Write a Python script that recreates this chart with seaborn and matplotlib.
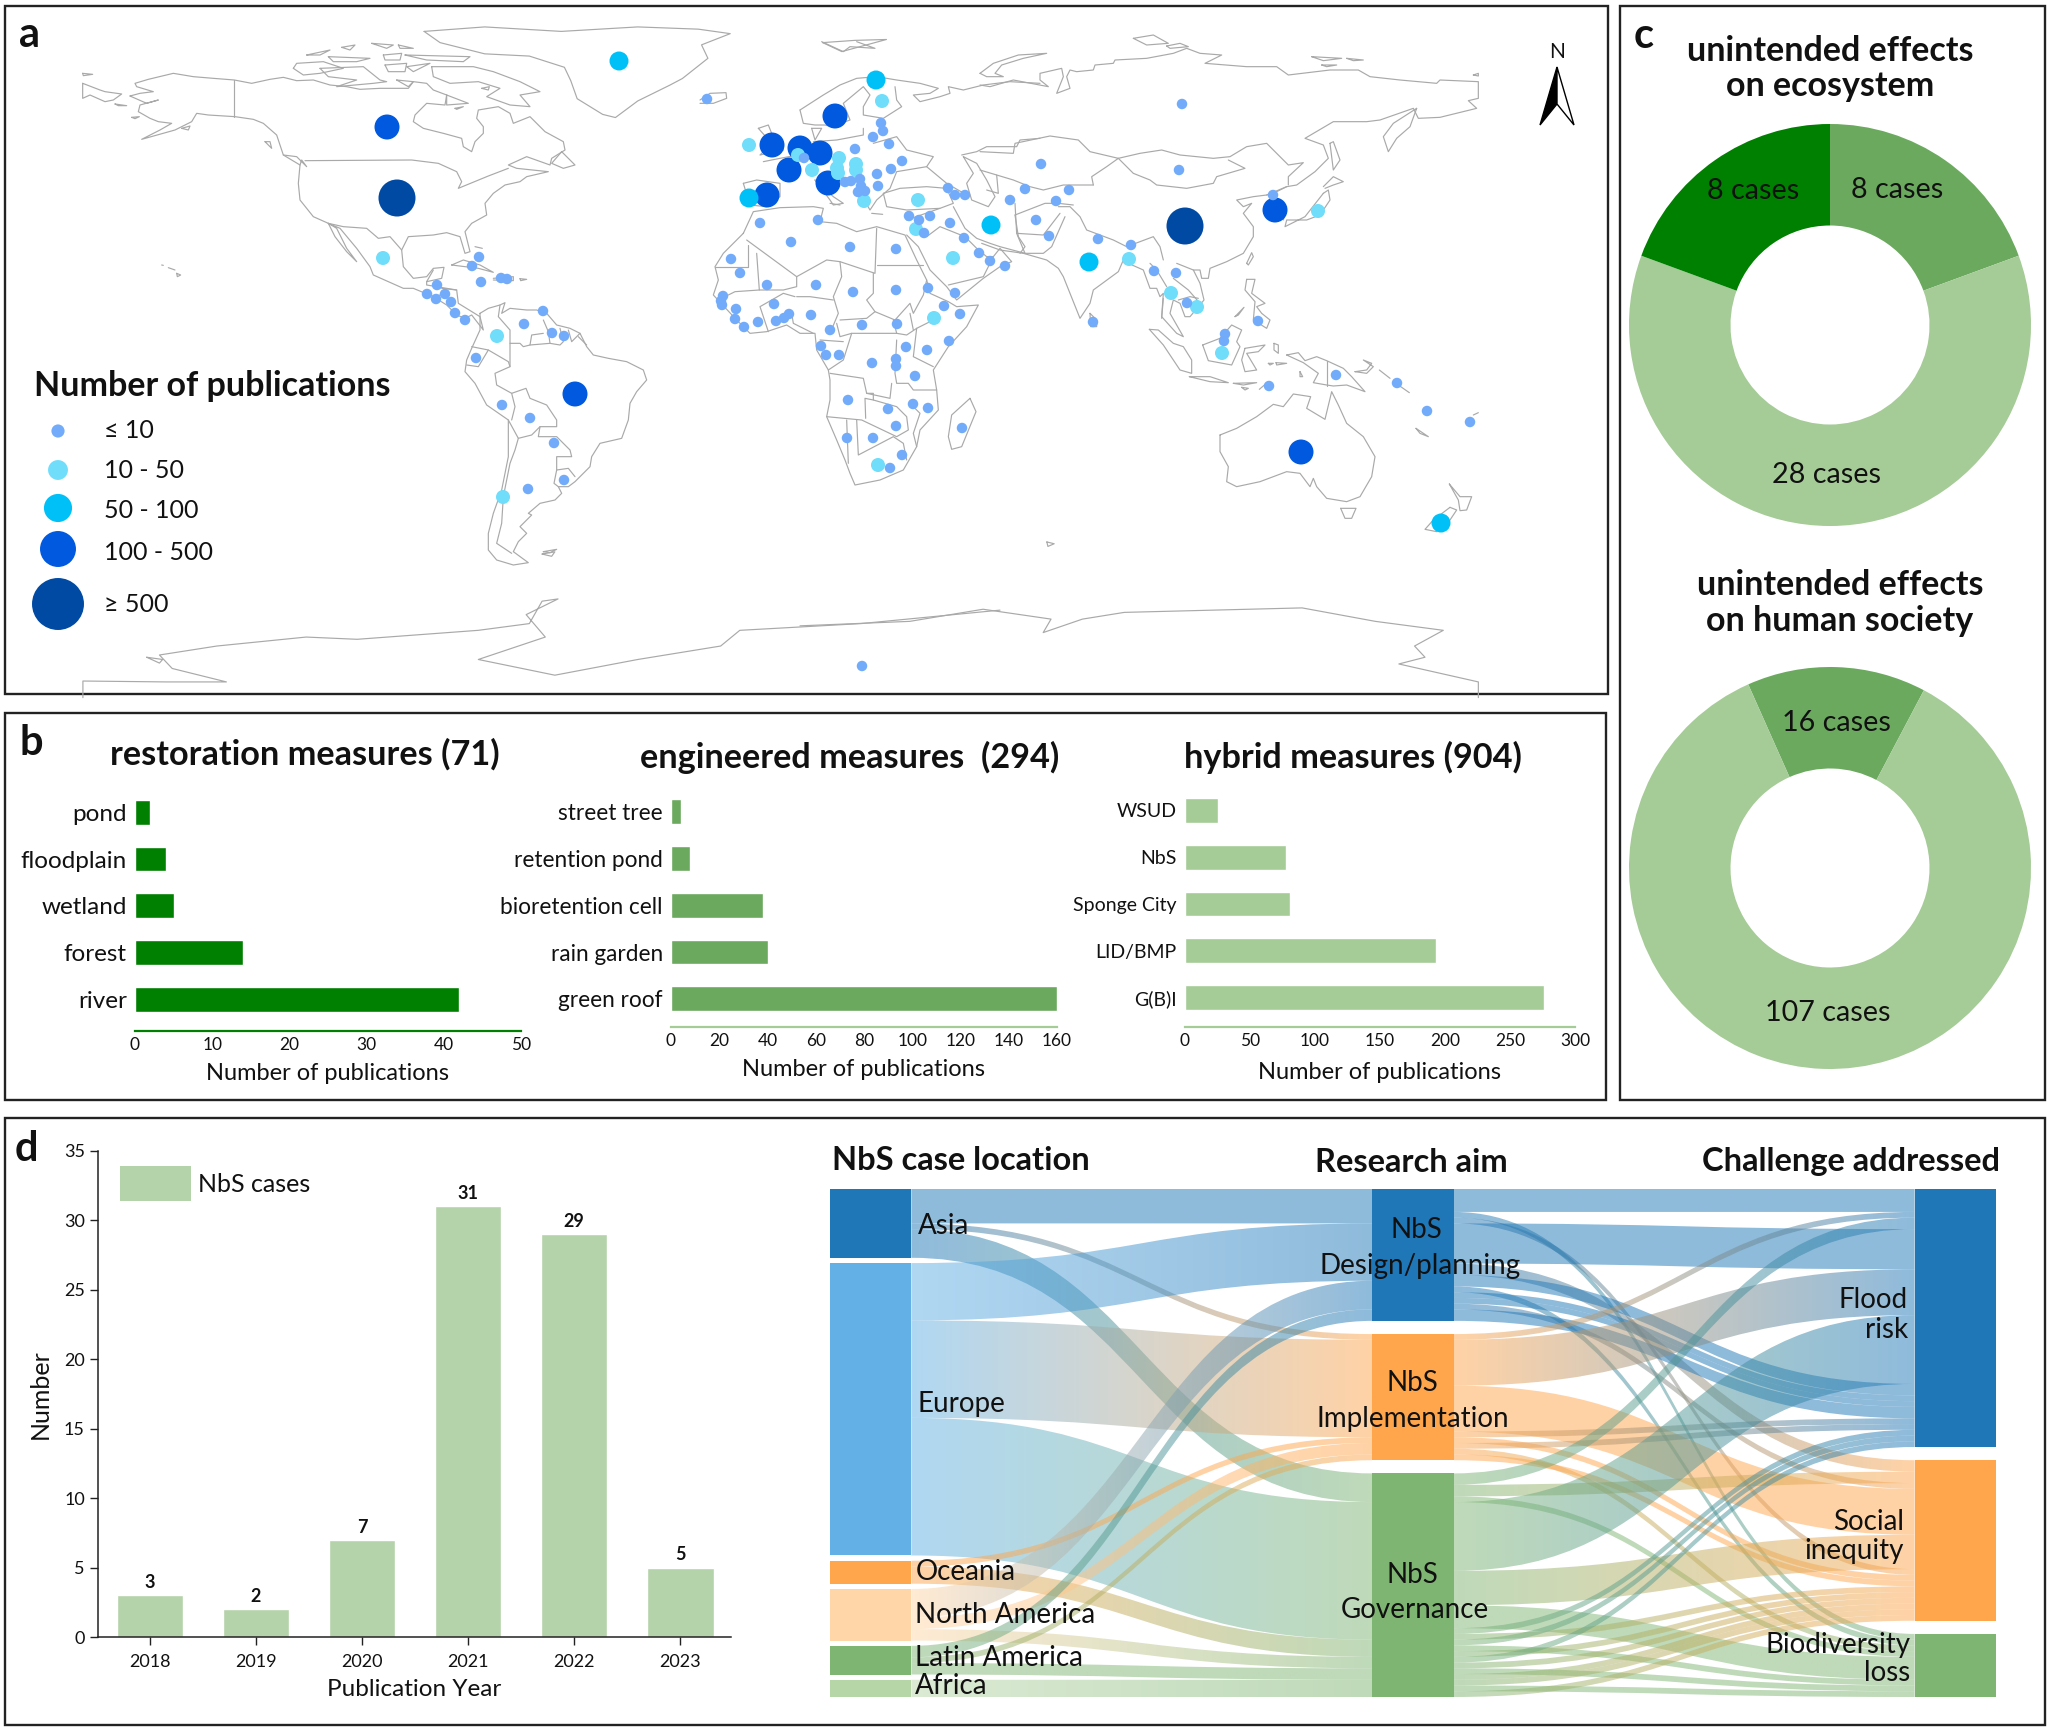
import numpy as np
import pandas as pd
import seaborn as sns
import matplotlib.pyplot as plt
from matplotlib.path import Path
from matplotlib.patches import PathPatch, Rectangle, Polygon
from matplotlib.colors import to_rgb

# panel b
restoration_names = ["pond", "floodplain", "wetland", "forest", "river"]
restoration_values = [2, 4, 5, 14, 42]
engineered_names = ["street tree", "retention pond", "bioretention cell", "rain garden", "green roof"]
engineered_values = [4, 8, 38, 40, 160]
hybrid_names = ["WSUD", "NbS", "Sponge City", "LID/BMP", "G(B)I"]
hybrid_values = [25, 78, 81, 193, 276]

# panel c, share of each ring as drawn (percent)
eco_shares = [19.4, 61.2, 19.4]
society_shares = [14.4, 85.6]

# panel d
years = ["2018", "2019", "2020", "2021", "2022", "2023"]
year_cases = [3, 2, 7, 31, 29, 5]

# sankey: left nodes, middle nodes, right nodes
left_nodes = ["Asia", "Europe", "Oceania", "North America", "Latin America", "Africa"]
mid_nodes = ["Design", "Implementation", "Governance"]
right_nodes = ["Flood", "Social", "Biodiversity"]
left_links = [
    ("Asia", "Design", 6), ("Asia", "Implementation", 1), ("Asia", "Governance", 5),
    ("Europe", "Design", 10), ("Europe", "Implementation", 17), ("Europe", "Governance", 24),
    ("Oceania", "Implementation", 1), ("Oceania", "Governance", 3),
    ("North America", "Design", 5), ("North America", "Implementation", 2), ("North America", "Governance", 2),
    ("Latin America", "Design", 2), ("Latin America", "Implementation", 1), ("Latin America", "Governance", 2),
    ("Africa", "Governance", 3),
]
# source, target, cases, order of arrival at the target
right_links = [
    ("Design", "Flood", 4, 1), ("Design", "Biodiversity", 1, 1), ("Design", "Social", 1, 7),
    ("Design", "Flood", 7, 4), ("Design", "Social", 2, 1), ("Design", "Flood", 2, 7),
    ("Design", "Biodiversity", 1, 2), ("Design", "Flood", 1, 8), ("Design", "Flood", 1, 9),
    ("Design", "Social", 1, 3), ("Design", "Flood", 2, 10),
    ("Implementation", "Flood", 1, 2), ("Implementation", "Flood", 8, 5), ("Implementation", "Social", 8, 4),
    ("Implementation", "Flood", 1, 11), ("Implementation", "Social", 1, 8), ("Implementation", "Flood", 1, 12),
    ("Implementation", "Biodiversity", 1, 3), ("Implementation", "Social", 1, 9),
    ("Governance", "Flood", 2, 3), ("Governance", "Social", 2, 2), ("Governance", "Biodiversity", 1, 4),
    ("Governance", "Flood", 12, 6), ("Governance", "Social", 6, 5), ("Governance", "Biodiversity", 4, 5),
    ("Governance", "Flood", 1, 13), ("Governance", "Social", 1, 10), ("Governance", "Flood", 1, 14),
    ("Governance", "Biodiversity", 1, 6), ("Governance", "Social", 1, 11), ("Governance", "Flood", 1, 15),
    ("Governance", "Social", 1, 12), ("Governance", "Biodiversity", 1, 7), ("Governance", "Social", 1, 13),
    ("Governance", "Social", 1, 14), ("Governance", "Biodiversity", 1, 8), ("Governance", "Social", 1, 15),
]
node_colors = {
    "Asia": "#1F77B8", "Europe": "#62B0E5", "Oceania": "#FFA64D", "North America": "#FFD6A8",
    "Latin America": "#7FB573", "Africa": "#B7D6A8",
    "Design": "#1F77B8", "Implementation": "#FFA64D", "Governance": "#7FB573",
    "Flood": "#1F77B8", "Social": "#FFA64D", "Biodiversity": "#7FB573",
}

# panel a: positions of the countries on the picture, by class
pubs_500 = [(397, 198), (1185, 226)]
pubs_100 = [(387, 127), (575, 394), (835, 116), (772, 145), (800, 148), (820, 153), (789, 170),
            (828, 183), (767, 195), (1275, 210), (1301, 452)]
pubs_50 = [(619, 61), (876, 80), (749, 198), (991, 225), (1089, 262), (1441, 523)]
pubs_10 = [(882, 101), (749, 145), (798, 155), (812, 170), (839, 158), (837, 168), (838, 173), (856, 164),
           (856, 170), (864, 201), (918, 200), (916, 229), (953, 258), (383, 258), (497, 336), (503, 497),
           (878, 465), (934, 318), (1129, 259), (1171, 293), (1197, 307), (1222, 353), (1318, 211)]
pubs_1 = [(707, 99), (881, 123), (883, 131), (873, 137), (889, 144), (855, 149), (902, 161), (891, 169),
          (877, 174), (878, 186), (804, 158), (845, 182), (851, 181), (860, 179), (861, 186), (858, 192),
          (865, 191), (948, 188), (955, 195), (965, 195), (909, 216), (919, 220), (930, 216), (924, 233),
          (950, 223), (964, 238), (979, 253), (990, 261), (760, 223), (818, 220), (791, 242), (850, 247),
          (896, 249), (731, 259), (740, 273), (767, 285), (816, 285), (853, 292), (896, 290), (928, 288),
          (955, 293), (723, 296), (721, 301), (722, 305), (736, 309), (774, 304), (789, 314), (784, 318),
          (776, 321), (758, 322), (735, 319), (744, 327), (811, 315), (830, 330), (862, 325), (897, 324),
          (944, 306), (960, 314), (821, 346), (826, 355), (839, 355), (906, 347), (927, 350), (949, 341),
          (872, 363), (896, 359), (896, 366), (915, 376), (848, 400), (888, 409), (913, 404), (928, 408),
          (896, 426), (847, 438), (873, 438), (902, 455), (890, 468), (962, 428), (479, 257), (472, 266),
          (481, 282), (501, 278), (507, 279), (437, 285), (427, 294), (436, 299), (445, 294), (451, 302),
          (455, 313), (465, 320), (543, 311), (524, 324), (552, 333), (564, 336), (476, 358), (502, 405),
          (530, 418), (554, 443), (564, 480), (528, 489), (862, 666), (1182, 104), (1041, 164), (1179, 170),
          (1025, 189), (1069, 190), (1010, 200), (1056, 201), (1036, 220), (1049, 236), (1098, 239),
          (1131, 245), (1154, 271), (1176, 273), (1187, 303), (1093, 322), (1258, 321), (1273, 195),
          (1225, 334), (1224, 341), (1336, 375), (1269, 386), (1397, 383), (1427, 411), (1470, 422),
          (1005, 266)]
pub_classes = ["≥ 500", "100 - 500", "50 - 100", "10 - 50", "≤ 10"]
pub_groups = [pubs_500, pubs_100, pubs_50, pubs_10, pubs_1]
pub_colors = {"≥ 500": "#004AA3", "100 - 500": "#0059DF", "50 - 100": "#00C0F8",
              "10 - 50": "#70DEFB", "≤ 10": "#72ABFA"}

north_america_lines = (80, 40, 3, 3, [
    [(8, 100), (38, 103), (10, 107), (8, 100)], [(8, 130), (60, 150), (75, 155), (125, 162), (100, 180), (75, 185), (30, 165), (8, 175), (8, 130)],
    [(105, 192), (140, 197), (115, 197), (105, 192)],
    [(150, 168), (180, 160), (220, 155), (170, 140), (165, 130), (205, 118), (280, 100), (340, 110), (400, 115), (463, 120), (515, 130),
     (570, 118), (610, 112), (650, 122), (700, 120), (750, 135), (800, 140), (840, 148), (900, 145), (985, 145), (1000, 125), (1040, 130),
     (1060, 150), (1100, 165), (1095, 195), (1040, 190), (1005, 225), (1000, 245), (1030, 265), (1090, 280), (1145, 295), (1150, 320),
     (1175, 335), (1185, 305), (1210, 280), (1210, 260), (1190, 235), (1195, 210), (1255, 200), (1290, 220), (1300, 250), (1350, 230),
     (1395, 275), (1450, 305), (1455, 330), (1415, 355), (1410, 375), (1340, 350), (1285, 375), (1310, 385), (1405, 395), (1340, 410),
     (1320, 425), (1275, 435), (1240, 460), (1215, 490), (1220, 525), (1175, 550), (1155, 575), (1170, 635), (1155, 640), (1140, 590),
     (1100, 578), (1060, 585), (985, 590), (965, 630), (970, 680), (1000, 715), (1040, 710), (1060, 685), (1092, 682), (1085, 715),
     (1040, 725), (1040, 735), (1130, 750), (1135, 790), (1200, 830), (1210, 870), (1175, 825), (1155, 835), (1130, 825), (1100, 795),
     (1060, 770), (1000, 745), (970, 745), (880, 705), (870, 680), (830, 625), (780, 565), (745, 550), (765, 590), (800, 635), (830, 665),
     (800, 625), (770, 565), (745, 550), (700, 530), (660, 480), (655, 430), (660, 375), (610, 345), (590, 285), (550, 250), (520, 238),
     (465, 230), (385, 225), (350, 220), (335, 245), (285, 270), (185, 298), (240, 270), (275, 250), (235, 245), (210, 235), (175, 215),
     (180, 195), (235, 180), (200, 190), (150, 168)],
    [(463, 120), (463, 230)], [(675, 362), (995, 360), (1075, 370), (1130, 395), (1145, 425), (1135, 445), (1225, 408), (1285, 385)],
    [(745, 550), (790, 560), (860, 565), (895, 595), (930, 590), (965, 630)], [(555, 305), (570, 305), (575, 325), (555, 305)],
    [(610, 345), (650, 350), (680, 380), (665, 360), (660, 375)], [(305, 265), (330, 258), (325, 270), (305, 265)], [(155, 232), (178, 230), (165, 236), (155, 232)],
    [(640, 85), (650, 70), (730, 65), (790, 85), (720, 100), (670, 105), (640, 85)], [(680, 45), (750, 30), (720, 45), (680, 45)],
    [(745, 50), (870, 55), (830, 65), (760, 65), (745, 50)], [(785, 22), (825, 15), (810, 30), (785, 22)],
    [(720, 85), (850, 80), (900, 120), (920, 125), (880, 130), (770, 140), (830, 120), (745, 110), (720, 85)],
    [(915, 75), (980, 70), (975, 95), (925, 95), (915, 75)], [(910, 45), (965, 40), (960, 60), (915, 60), (910, 45)],
    [(875, 10), (940, 15), (920, 25), (875, 10)], [(955, 15), (1000, 25), (960, 25), (955, 15)],
    [(975, 45), (1170, 50), (1150, 65), (1040, 60), (975, 45)], [(980, 80), (1050, 70), (1000, 95), (980, 80)],
    [(950, 120), (1000, 125), (985, 140), (950, 120)],
    [(1055, 80), (1180, 80), (1240, 95), (1320, 125), (1380, 155), (1320, 165), (1350, 200), (1290, 195), (1220, 170), (1260, 145),
     (1195, 125), (1110, 130), (1060, 110), (1055, 80)],
    [(1100, 165), (1165, 190), (1100, 195), (1100, 165)], [(1125, 205), (1150, 200), (1130, 208), (1125, 205)], [(1205, 145), (1228, 140), (1225, 150), (1205, 145)],
    [(1445, 335), (1485, 375), (1450, 385), (1415, 370), (1445, 335)],
    [(245, 675), (250, 676)], [(265, 683), (285, 690)], [(290, 700), (302, 705), (292, 710), (290, 700)],
    [(1115, 675), (1150, 660), (1200, 675), (1240, 697), (1195, 685), (1115, 675)], [(1240, 715), (1300, 710), (1300, 722), (1240, 720)],
    [(1320, 716), (1340, 718), (1322, 722), (1320, 716)], [(1185, 620), (1207, 625)],
    [(1060, 690), (1040, 725)], [(1085, 745), (1130, 750)], [(1060, 770), (1100, 760)],
])
south_america_lines = (400, 230, 3, 3, [
    [(240, 250), (265, 235), (300, 225), (315, 218), (305, 250), (330, 235), (380, 240), (410, 240), (440, 250), (470, 285), (510, 295),
     (540, 310), (560, 350), (580, 375), (625, 385), (680, 395), (730, 420), (740, 450), (710, 485), (690, 520), (685, 570), (665, 625),
     (600, 640), (575, 680), (570, 710), (525, 755), (505, 770), (475, 770), (485, 790), (465, 810), (420, 820), (385, 850), (395, 855),
     (360, 890), (380, 910), (355, 935), (340, 965), (385, 998), (340, 1005), (290, 990), (265, 960), (265, 910), (280, 850), (305, 780),
     (325, 680), (325, 570), (260, 525), (225, 460), (195, 425), (200, 390), (215, 355), (240, 300), (240, 250)],
    [(300, 225), (295, 260), (330, 300), (330, 340), (360, 340), (370, 350), (390, 345), (395, 315), (430, 310)],
    [(430, 270), (445, 305), (450, 340), (480, 345), (490, 335), (480, 295)], [(505, 300), (515, 335), (540, 310)], [(535, 320), (560, 345)],
    [(390, 345), (450, 340)],
    [(330, 340), (330, 410), (285, 430), (290, 465), (335, 490), (378, 475), (390, 505), (440, 525), (470, 570), (470, 590), (420, 590),
     (415, 620), (470, 620), (510, 660), (515, 680), (470, 680), (470, 720), (505, 715), (525, 740)],
    [(215, 350), (265, 360), (235, 410), (200, 405)], [(265, 360), (325, 395), (330, 410)], [(335, 490), (345, 530), (335, 570)],
    [(325, 570), (355, 625), (395, 615), (420, 590)], [(355, 625), (345, 660), (330, 700), (310, 800), (305, 880), (290, 940), (335, 970)],
    [(430, 965), (470, 958), (450, 968), (430, 965)], [(470, 720), (462, 760), (475, 770)],
])
europe_africa_lines = (700, 40, 3, 3, [
    [(0, 180), (30, 160), (78, 158), (80, 175), (40, 190), (0, 190)], [(365, 5), (430, 35), (450, 20), (525, 25), (470, 5)],
    [(300, 210), (370, 165), (420, 135), (470, 115), (530, 110), (590, 120), (660, 130), (715, 145), (690, 160), (640, 165), (660, 185),
     (720, 170), (750, 160), (745, 140), (790, 150), (850, 135), (930, 125), (1020, 130)],
    [(300, 210), (310, 250), (345, 255), (375, 255), (395, 260), (450, 240), (430, 190), (490, 140), (510, 165), (490, 200), (490, 225),
     (550, 235), (605, 200), (590, 180), (585, 140)],
    [(490, 265), (490, 285), (410, 300), (340, 305)], [(335, 265), (365, 265), (345, 300), (335, 265)],
    [(175, 265), (205, 255), (215, 280), (250, 330), (180, 345), (215, 310), (175, 265)], [(190, 365), (240, 355), (320, 340)],
    [(130, 430), (170, 420), (240, 430), (240, 470), (200, 500), (150, 495), (130, 430)], [(345, 420), (400, 470), (430, 490), (400, 495), (390, 480), (345, 420)],
    [(390, 490), (420, 495)], [(475, 450), (510, 510), (530, 480), (570, 445), (590, 395), (680, 380), (700, 350), (620, 330), (590, 290), (520, 310)],
    [(680, 380), (740, 430), (800, 465)], [(550, 460), (600, 445), (680, 440), (740, 445), (760, 490), (720, 505), (620, 510), (560, 500), (550, 460)],
    [(515, 520), (548, 523)], [(790, 350), (820, 400), (800, 430), (815, 480), (865, 500), (885, 470), (860, 420), (830, 370), (790, 350)],
    [(785, 345), (830, 335), (860, 320), (950, 320), (960, 300), (1020, 295)], [(945, 490), (950, 580), (975, 640)],
    [(975, 640), (900, 620), (870, 610), (830, 595), (795, 565), (760, 500)], [(620, 585), (655, 620), (690, 690), (740, 740), (770, 780), (850, 715), (900, 680), (935, 665), (900, 625), (880, 650), (860, 650), (830, 625), (795, 590)],
    [(680, 590), (720, 560), (795, 590)], [(745, 735), (850, 710), (880, 650)], [(620, 540), (720, 505)],
    [(130, 580), (160, 515), (240, 503), (340, 500), (370, 505), (360, 545), (410, 550), (470, 575), (530, 560), (615, 585), (650, 660), (680, 720),
     (690, 760), (745, 785), (770, 800), (835, 795), (800, 860), (745, 920), (700, 990), (710, 1050), (715, 1110), (660, 1170), (650, 1220),
     (610, 1290), (540, 1320), (465, 1335), (450, 1300), (435, 1260), (410, 1200), (380, 1130), (390, 1080), (390, 1020), (385, 990), (350, 930),
     (345, 880), (300, 880), (260, 855), (200, 875), (150, 880), (110, 840), (40, 765), (55, 720), (45, 680), (70, 640), (130, 580)],
    [(140, 600), (290, 710), (380, 660), (420, 665), (525, 700), (530, 565)], [(420, 665), (425, 710), (400, 770), (415, 820), (390, 880)],
    [(530, 675), (670, 675)], [(520, 700), (520, 760), (500, 780), (525, 815), (585, 840), (630, 790), (640, 820), (670, 765), (680, 720)],
    [(45, 680), (145, 680), (145, 615)], [(170, 640), (178, 750), (105, 755), (85, 765)], [(178, 750), (250, 750), (290, 740), (290, 710)],
    [(290, 770), (330, 770), (400, 780)], [(285, 770), (250, 760), (180, 800), (205, 875)], [(275, 820), (280, 850), (340, 880)],
    [(420, 840), (500, 835), (525, 815)], [(410, 850), (420, 890), (455, 880), (590, 880), (620, 885), (650, 865)], [(580, 840), (590, 880)],
    [(640, 870), (630, 820)], [(700, 840), (650, 865), (640, 950), (700, 980)], [(455, 880), (430, 960), (385, 990)], [(360, 900), (430, 905)],
    [(590, 900), (585, 1000), (590, 1030), (625, 1030), (640, 1050), (710, 1050)], [(390, 1000), (490, 1015), (500, 1060), (520, 1060), (520, 1080)],
    [(500, 1060), (570, 1075), (575, 1030)], [(380, 1130), (485, 1140), (590, 1190), (625, 1170), (620, 1130), (590, 1100), (520, 1080), (495, 1075), (497, 1135)],
    [(470, 1140), (475, 1245), (580, 1190), (610, 1210), (620, 1260)], [(640, 1100), (660, 1120), (640, 1180), (650, 1220)], [(440, 1140), (445, 1270)],
    [(810, 1075), (828, 1115), (785, 1220), (755, 1228), (745, 1190), (755, 1125), (810, 1075)],
])
asia_lines = (980, 30, 3, 3, [
    [(0, 130), (40, 100), (115, 75), (200, 70), (130, 85), (65, 105), (45, 130), (70, 140), (20, 140), (0, 130)],
    [(0, 165), (30, 170), (100, 150), (205, 170), (180, 150), (180, 130), (245, 115), (250, 140), (230, 190), (270, 175), (260, 140), (270, 120),
     (290, 125), (340, 120), (345, 105), (400, 100), (405, 90), (500, 85), (580, 70), (620, 55), (660, 70), (725, 75), (675, 100), (800, 110),
     (890, 110), (925, 135), (1050, 120), (1135, 120), (1170, 140), (1260, 150), (1370, 160), (1380, 150), (1495, 155), (1495, 205), (1465, 212),
     (1490, 235), (1380, 262), (1315, 265), (1300, 235), (1200, 270), (1160, 275), (1060, 275), (975, 325), (1030, 345), (1045, 385), (1005, 425),
     (950, 465), (920, 470), (890, 485), (860, 495), (820, 500), (770, 510), (790, 530), (815, 520), (790, 550), (820, 590), (820, 620), (790, 670),
     (740, 695), (690, 715), (685, 745), (665, 745), (660, 720), (640, 720), (660, 760), (672, 810), (630, 860), (615, 860), (600, 820), (580, 810),
     (570, 850), (610, 920), (590, 910), (545, 860), (550, 790), (540, 800), (530, 775), (510, 775), (490, 720), (445, 700), (430, 690), (415, 725),
     (340, 780), (330, 820), (300, 865), (250, 740), (235, 715), (200, 690), (130, 670), (60, 660), (5, 640)],
    [(0, 365), (100, 370), (105, 340), (210, 318), (295, 330), (330, 365), (415, 385), (380, 410), (335, 440), (340, 465)],
    [(415, 385), (480, 370), (545, 360), (600, 375), (700, 385), (750, 380), (800, 350), (860, 340), (885, 365), (925, 405), (970, 398), (925, 440), (925, 465)],
    [(415, 385), (460, 430), (510, 450), (530, 465), (620, 475), (700, 460), (710, 440), (795, 415), (745, 390)],
    [(0, 420), (50, 435), (100, 450), (150, 470), (190, 480), (250, 465), (340, 465)], [(50, 435), (55, 490), (20, 480)],
    [(105, 555), (195, 520), (235, 520), (280, 525)], [(235, 530), (270, 530), (300, 560), (320, 600), (400, 630), (440, 650), (520, 620), (540, 650), (550, 690)],
    [(510, 700), (530, 720), (560, 770)], [(590, 700), (640, 720)], [(130, 670), (190, 670), (215, 650), (255, 560)], [(110, 610), (190, 615), (240, 550)],
    [(105, 555), (115, 620), (135, 650), (120, 670)], [(860, 495), (920, 470)], [(920, 530), (910, 570)],
    [(1050, 340), (1060, 335), (1080, 390), (1060, 420), (1050, 340)], [(1030, 470), (1060, 440), (1090, 455), (1060, 465), (1035, 475)],
    [(1030, 490), (1045, 480), (1050, 510), (1020, 555), (980, 570), (920, 570), (915, 590), (975, 560), (1030, 490)],
    [(1310, 235), (1290, 290), (1250, 325), (1225, 365), (1210, 320), (1240, 280), (1310, 235)], [(1480, 135), (1495, 130), (1495, 138), (1480, 135)],
    [(460, 25), (520, 15), (565, 40), (500, 45), (460, 25)], [(560, 48), (600, 40), (625, 50), (570, 55), (560, 48)],
    [(995, 80), (1085, 85), (1030, 92), (995, 80)], [(1100, 85), (1150, 90), (1120, 92), (1100, 85)], [(1025, 105), (1070, 105), (1040, 110), (1025, 105)],
    [(800, 700), (815, 668), (820, 680), (805, 705), (800, 700)], [(330, 850), (350, 870), (350, 890), (332, 890), (330, 850)],
])
oceania_lines = (1130, 270, 3, 3, [
    [(58, 178), (85, 180), (130, 220), (160, 230), (185, 270), (185, 310), (150, 300), (100, 225), (58, 178)], [(178, 320), (240, 320), (295, 338), (240, 335), (178, 320)],
    [(218, 225), (270, 205), (305, 165), (335, 180), (320, 215), (330, 230), (305, 285), (235, 272), (218, 225)],
    [(345, 235), (405, 225), (385, 245), (350, 250), (380, 300), (345, 305), (335, 270), (345, 235)], [(432, 220), (445, 225), (445, 250), (432, 240), (432, 220)],
    [(415, 280), (430, 280), (420, 285), (415, 280)], [(438, 278), (470, 280), (440, 285), (438, 278)], [(310, 340), (380, 338), (340, 345), (310, 340)],
    [(335, 352), (355, 355), (345, 360), (335, 352)], [(388, 358), (415, 335), (430, 345)], [(510, 305), (518, 320), (510, 320), (510, 305)],
    [(470, 255), (505, 248), (525, 272), (560, 260), (590, 272), (640, 295), (665, 320), (705, 365), (650, 345), (610, 348), (590, 345), (550, 338), (565, 310), (520, 278), (470, 255)],
    [(590, 272), (590, 348)], [(675, 305), (710, 300), (725, 280), (700, 270), (730, 290), (710, 310), (675, 305)], [(748, 300), (780, 325)], [(805, 345), (838, 368)],
    [(858, 475), (895, 500), (870, 490), (858, 475)], [(1030, 435), (1045, 428)], [(898, 420), (902, 432)],
    [(270, 495), (320, 475), (380, 440), (430, 403), (460, 410), (490, 372), (542, 380), (530, 415), (585, 448), (605, 365), (625, 405), (650, 460), (700, 500),
     (735, 560), (725, 620), (690, 680), (650, 695), (590, 685), (560, 650), (550, 625), (540, 650), (510, 610), (470, 605), (390, 635), (320, 650), (290, 635),
     (295, 590), (270, 545), (270, 495)],
    [(632, 715), (678, 715), (665, 745), (645, 745), (632, 715)], [(958, 642), (990, 680), (1025, 680), (1010, 720), (990, 722), (985, 690), (958, 642)],
    [(960, 712), (980, 720), (960, 750), (920, 785), (885, 778), (910, 750), (960, 712)],
    [(350, 28), (375, 28), (365, 70), (405, 100), (380, 110), (395, 130), (420, 150), (410, 175), (370, 150), (375, 95), (345, 60), (350, 28)], [(315, 140), (342, 112), (325, 135), (315, 140)],
    [(100, 85), (95, 145)], [(145, 90), (180, 80), (205, 85)], [(130, 25), (175, 60), (210, 100)],
])
polar_west_lines = (0, 0, 1.568, 2.229, [
    [(665, 70), (760, 60), (880, 70), (1000, 60), (1095, 65), (1145, 75), (1100, 100), (1110, 130), (1070, 175), (1050, 190), (1000, 225), (965, 262), (945, 255),
     (905, 220), (895, 180), (885, 150), (830, 125), (760, 120), (690, 95), (665, 70)],
    [(1290, 95), (1340, 90), (1390, 88), (1320, 115), (1290, 95)],
    [(130, 1555), (130, 1518), (260, 1520), (355, 1520), (270, 1490), (250, 1460), (340, 1440), (480, 1420), (560, 1425), (750, 1405), (830, 1390), (850, 1340),
     (875, 1335), (825, 1370), (855, 1420), (750, 1470), (870, 1505), (1000, 1470), (1130, 1440), (1160, 1405), (1350, 1390), (1568, 1360)],
    [(230, 1465), (255, 1470), (250, 1478), (230, 1465)], [(850, 1235), (870, 1230), (865, 1240), (850, 1235)],
])
polar_east_lines = (800, 0, 1.912, 2.229, [
    [(472, 1208), (486, 1212), (474, 1218), (472, 1208)],
    [(0, 1395), (210, 1385), (350, 1358), (480, 1380), (465, 1410), (540, 1380), (620, 1365), (960, 1355), (1100, 1385), (1230, 1405),
     (1175, 1440), (1195, 1465), (1145, 1480), (1297, 1520), (1297, 1555)],
])
map_groups = [north_america_lines, south_america_lines, europe_africa_lines, asia_lines, oceania_lines, polar_west_lines, polar_east_lines]

sns.set_theme(style="white")
plt.rcParams["font.family"] = ["Lato", "DejaVu Sans"]
plt.rcParams["axes.unicode_minus"] = False
INK = "#111111"
W, H = 2050, 1730
fig = plt.figure(figsize=(20.5, 17.3), dpi=100, facecolor="white")


def px_axes(x0, y0, x1, y1, **kw):
    return fig.add_axes([x0 / W, 1 - y1 / H, (x1 - x0) / W, (y1 - y0) / H], **kw)


# page axes in picture pixels, holds the frames, the map and the loose text
page = px_axes(0, 0, W, H, zorder=10)
page.patch.set_alpha(0)
page.axis("off")


def put(xx, yy, lab, size, **kw):
    kw.setdefault("ha", "center")
    page.text(xx, yy + 2, lab, fontsize=size, va="center", color=INK, **kw)


for x0, y0, x1, y1 in [(5, 6, 1608, 694), (5, 713, 1606, 1100), (1620, 6, 2045, 1100), (5, 1118, 2045, 1725)]:
    page.add_patch(Rectangle((x0, y0), x1 - x0, y1 - y0, fill=False, ec="#222222", lw=1.7))

for ox, oy, sx, sy, lines in map_groups:
    for line in lines:
        a = np.array(line, float)
        page.plot(ox + a[:, 0] / sx, oy + a[:, 1] / sy, color="#A9A9A9", lw=0.85)

rows = [(x, y, c) for c, g in zip(pub_classes, pub_groups) for x, y in g]
pubs = pd.DataFrame(rows, columns=["x", "y", "cls"])
sns.scatterplot(data=pubs, x="x", y="y", hue="cls", size="cls", palette=pub_colors,
                sizes={"≥ 500": 710, "100 - 500": 324, "50 - 100": 187, "10 - 50": 102, "≤ 10": 57},
                linewidth=0, legend=False, ax=page, zorder=3)

# key of the map
key = pd.DataFrame({"x": [58] * 5, "y": [604, 549, 508, 470, 431], "cls": pub_classes})
sns.scatterplot(data=key, x="x", y="y", hue="cls", size="cls", palette=pub_colors,
                sizes={"≥ 500": 1400, "100 - 500": 670, "50 - 100": 410, "10 - 50": 205, "≤ 10": 90},
                linewidth=0, legend=False, ax=page, zorder=3)
for lab, yy in zip(pub_classes, [602, 551, 509, 469, 429]):
    put(104, yy, lab, 18, ha="left")
put(34, 384, "Number of publications", 24.5, ha="left", fontweight="bold")

# north arrow
page.add_patch(Polygon([(1557, 67), (1540, 125), (1557, 104)], fc="black", ec="black", lw=1))
page.add_patch(Polygon([(1557, 67), (1574, 125), (1557, 104)], fc="white", ec="black", lw=1))
put(1557, 50, "N", 15)

for lab, xx, yy in [("a", 30, 33), ("b", 31, 741), ("c", 1644, 34), ("d", 26, 1147)]:
    put(xx, yy, lab, 30, fontweight="bold")


# panel b
def measure_bars(box, names, values, color, axis_color, xmax, step, ylow, pad, label_size):
    ax = px_axes(*box)
    frame = pd.DataFrame({"name": names, "value": values})
    sns.barplot(data=frame, y="name", x="value", color=color, saturation=1, width=0.53, ax=ax)
    ax.set_xlim(0, xmax)
    ax.set_ylim(ylow, -0.5)
    ax.set_xticks(np.arange(0, xmax + 1, step))
    ax.set_ylabel("")
    ax.set_xlabel("Number of publications", fontsize=17, labelpad=pad, color=INK)
    for s in ["top", "left", "right"]:
        ax.spines[s].set_visible(False)
    ax.spines["bottom"].set_color(axis_color)
    ax.spines["bottom"].set_linewidth(1.6)
    ax.tick_params(axis="x", direction="inout", length=7, width=1, color=axis_color, labelsize=12.5, pad=1, labelcolor=INK)
    ax.tick_params(axis="y", length=0, labelsize=label_size, pad=6, labelcolor=INK)
    ax.patch.set_alpha(0)
    return ax


measure_bars((135, 789, 521, 1031), restoration_names, restoration_values, "#008000", "#008000", 50, 10, 4.68, 7, 17.5)
measure_bars((671, 788, 1057, 1027), engineered_names, engineered_values, "#6BA95E", "#A5CB97", 160, 20, 4.6, 7, 16.3)
measure_bars((1185, 787, 1575, 1027), hybrid_names, hybrid_values, "#A5CB97", "#A5CB97", 300, 50, 4.63, 9, 14)
put(305, 752, "restoration measures (71)", 24.7, fontweight="bold")
put(850, 755, "engineered measures  (294)", 24.7, fontweight="bold")
put(1353, 755, "hybrid measures (904)", 24.7, fontweight="bold")

# panel c
donut_a = px_axes(1629, 124, 2031, 526)
donut_a.pie(eco_shares, colors=["#6BA95E", "#A5CB97", "#008000"], startangle=90, counterclock=False,
            radius=1, wedgeprops={"width": 0.505, "linewidth": 0})
donut_a.set_xlim(-1, 1)
donut_a.set_ylim(-1, 1)
donut_b = px_axes(1629, 667, 2031, 1069)
donut_b.pie(society_shares, colors=["#6BA95E", "#A5CB97"], startangle=114, counterclock=False,
            radius=1, wedgeprops={"width": 0.505, "linewidth": 0})
donut_b.set_xlim(-1, 1)
donut_b.set_ylim(-1, 1)
put(1830, 49, "unintended effects", 24.5, fontweight="bold")
put(1830, 84, "on ecosystem", 24.5, fontweight="bold")
put(1840, 583, "unintended effects", 24.5, fontweight="bold")
put(1840, 619, "on human society", 24.5, fontweight="bold")
for lab, xx, yy in [("8 cases", 1753, 189), ("8 cases", 1897, 188), ("28 cases", 1826, 473),
                    ("16 cases", 1836, 721), ("107 cases", 1828, 1011)]:
    put(xx, yy, lab, 20.7)

# panel d, bars
ax_year = px_axes(98, 1150.6, 731, 1637)
sns.barplot(x=years, y=year_cases, color="#B5D3AB", saturation=1, width=0.63, ax=ax_year)
ax_year.set_xlim(-0.49, 5.48)
ax_year.set_ylim(0, 35)
ax_year.set_yticks(range(0, 36, 5))
for s in ["top", "right"]:
    ax_year.spines[s].set_visible(False)
for s in ["left", "bottom"]:
    ax_year.spines[s].set_color("#222222")
    ax_year.spines[s].set_linewidth(1.1)
ax_year.tick_params(axis="both", length=6, width=1, color="#222222", labelsize=13, bottom=True, left=True, labelcolor=INK)
ax_year.tick_params(axis="x", pad=6)
ax_year.set_xlabel("Publication Year", fontsize=17.5, labelpad=7, color=INK)
ax_year.set_ylabel("Number", fontsize=18, labelpad=9, color=INK)
for i, v in enumerate(year_cases):
    ax_year.text(i, v + 0.3, str(v), ha="center", va="bottom", fontsize=13, fontweight="bold", color=INK)
page.add_patch(Rectangle((120, 1166), 71, 35, fc="#B5D3AB", ec="none"))
put(198, 1183, "NbS cases", 18, ha="left")

# panel d, sankey
ax_s = px_axes(830, 1189, 1996, 1697)
ax_s.axis("off")
node_w = 0.15
totals = {}
for src, tgt, v in left_links:
    totals[src] = totals.get(src, 0) + v
    totals[tgt] = totals.get(tgt, 0) + v
for src, tgt, v, _ in right_links:
    totals[tgt] = totals.get(tgt, 0) + v


def stack_tops(names, gap):
    out, y = {}, 0.0
    for n in names:
        out[n] = y
        y += totals[n] + gap
    return out


left_top = stack_tops(left_nodes, 0.92)
mid_top = stack_tops(mid_nodes, 2.3)
right_top = stack_tops(right_nodes, 2.3)
y_max = 88.6


def ribbon(x0, x1, y0, y1, v, c0, c1):
    xm = (x0 + x1) / 2
    verts = [(x0, y0), (xm, y0), (xm, y1), (x1, y1), (x1, y1 + v), (xm, y1 + v), (xm, y0 + v), (x0, y0 + v), (x0, y0)]
    codes = [Path.MOVETO, Path.CURVE4, Path.CURVE4, Path.CURVE4, Path.LINETO, Path.CURVE4, Path.CURVE4, Path.CURVE4, Path.CLOSEPOLY]
    patch = PathPatch(Path(verts, codes), transform=ax_s.transData, fc="none", ec="none")
    img = np.ones((1, 64, 4))
    img[0, :, :3] = np.linspace(to_rgb(c0), to_rgb(c1), 64)
    img[0, :, 3] = 0.5
    im = ax_s.imshow(img, extent=[x0, x1, y_max, 0], aspect="auto", zorder=1, interpolation="bilinear")
    im.set_clip_path(patch)


src_y = dict(left_top)
tgt_y = dict(mid_top)
for src, tgt, v in left_links:
    ribbon(node_w, 1, src_y[src], tgt_y[tgt], v, node_colors[src], node_colors[tgt])
    src_y[src] += v
    tgt_y[tgt] += v

arrive = {}
tgt_y = dict(right_top)
for n in right_nodes:
    for link in sorted([l for l in right_links if l[1] == n], key=lambda l: l[3]):
        arrive[link] = tgt_y[n]
        tgt_y[n] += link[2]
src_y = dict(mid_top)
for link in right_links:
    src, tgt, v, _ = link
    ribbon(1 + node_w, 2, src_y[src], arrive[link], v, node_colors[src], node_colors[tgt])
    src_y[src] += v

for col_x, names, tops in [(0, left_nodes, left_top), (1, mid_nodes, mid_top), (2, right_nodes, right_top)]:
    ax_s.bar([col_x] * len(names), [totals[n] for n in names], bottom=[tops[n] for n in names], width=node_w,
             align="edge", color=[node_colors[n] for n in names], linewidth=0, zorder=2)
ax_s.set_xlim(0, 2 + node_w)
ax_s.set_ylim(y_max, 0)

for lab, xx, yy in [("NbS case location", 961, 1159), ("Research aim", 1411, 1160), ("Challenge addressed", 1851, 1159)]:
    put(xx, yy, lab, 23.5, fontweight="bold")
for lab, xx, yy in [("Asia", 918, 1224), ("Europe", 918, 1402), ("Oceania", 916, 1570), ("North America", 915, 1613),
                    ("Latin America", 915, 1656), ("Africa", 915, 1684)]:
    put(xx, yy, lab, 20, ha="left")
for lab, xx, yy in [("NbS", 1416, 1228), ("Design/planning", 1420, 1264), ("NbS", 1412, 1381), ("Implementation", 1413, 1417),
                    ("NbS", 1412, 1573), ("Governance", 1415, 1608)]:
    put(xx, yy, lab, 20)
for lab, xx, yy in [("Flood", 1908, 1298), ("risk", 1908, 1328), ("Social", 1904, 1520), ("inequity", 1904, 1549),
                    ("Biodiversity", 1910, 1643), ("loss", 1910, 1671)]:
    put(xx, yy, lab, 20, ha="right")

page.set_xlim(0, W)
page.set_ylim(H, 0)
page.set_xlabel("")
page.set_ylabel("")
fig.savefig("out.png", dpi=100)
